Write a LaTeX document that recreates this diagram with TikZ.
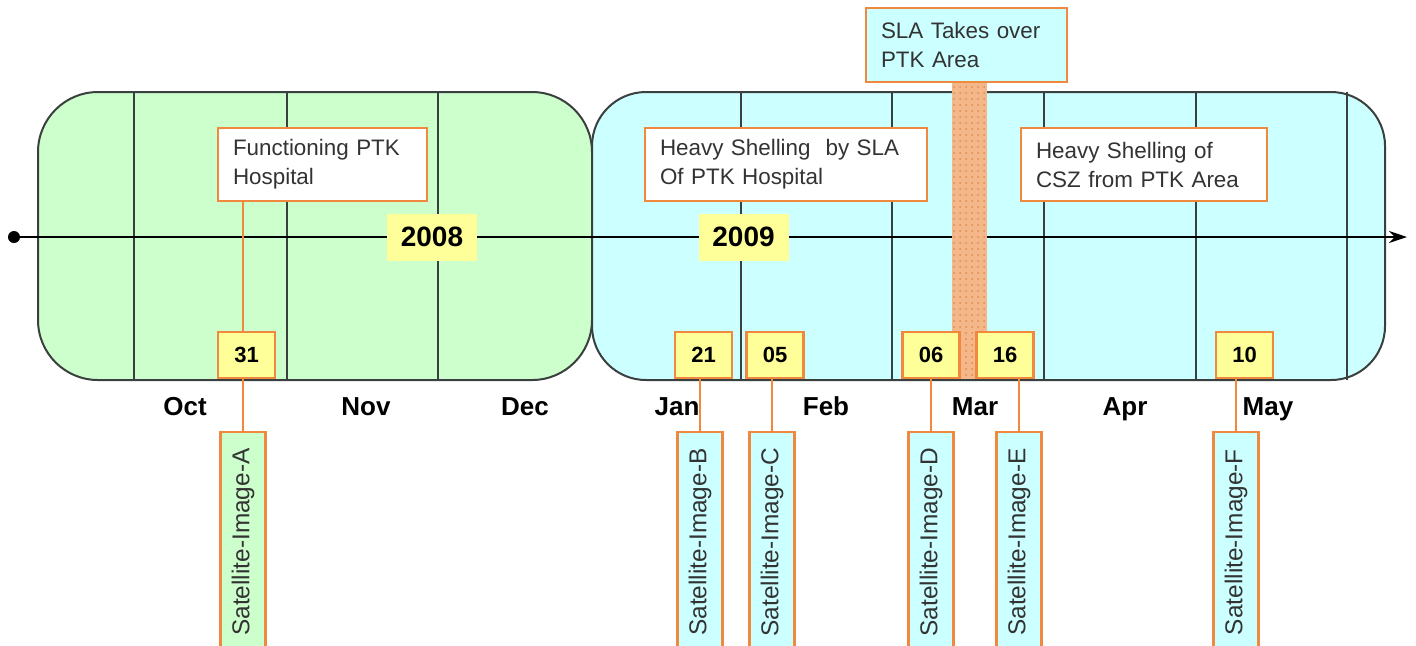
\documentclass[tikz,border=0pt]{standalone}
\usepackage{fontspec}
\setmainfont{Liberation Sans}
\usetikzlibrary{arrows.meta,patterns}
\definecolor{gfill}{HTML}{CCFFCC}
\definecolor{cfill}{HTML}{CCFFFF}
\definecolor{obord}{HTML}{F0883E}
\definecolor{yfill}{HTML}{FFFF99}
\definecolor{lgray}{HTML}{3A3F3F}
\definecolor{txt}{HTML}{333333}
\definecolor{barfill}{HTML}{F3B78A}
\definecolor{bardot}{HTML}{E08A50}
\tikzset{
  period/.style={draw=lgray, line width=1pt},
  grid/.style={draw=lgray, line width=0.9pt},
  event/.style={draw=obord, line width=1.2pt, fill=white, align=left, inner xsep=7.5pt,
     font=\fontsize{11.2}{14.5}\selectfont, text=txt, minimum height=36.5pt},
  yearbox/.style={fill=yfill, minimum width=45pt, minimum height=23.5pt, inner sep=0pt,
     font=\fontsize{14}{16}\selectfont\bfseries},
  datebox/.style={draw=obord, line width=1.1pt, fill=yfill, minimum width=28.5pt, minimum height=23pt,
     inner sep=0pt, font=\fontsize{11}{13}\selectfont\bfseries},
  satbox/.style={draw=obord, line width=1.1pt, rotate=90, minimum width=110pt, minimum height=22.5pt,
     inner sep=0pt, anchor=east, font=\fontsize{12.2}{14}\selectfont, text=txt},
  month/.style={font=\fontsize{13}{15}\selectfont\bfseries, anchor=base, inner sep=0pt},
  conn/.style={draw=obord, line width=1pt}
}
\begin{document}
\begin{tikzpicture}[x=0.5pt,y=-0.5pt]
\useasboundingbox (0,0) rectangle (1416,645);
\begin{scope}
\clip (0,0) rectangle (1416,645);
% period backgrounds
\draw[period, fill=gfill, rounded corners=30pt] (38,92) rectangle (592,380);
\draw[period, fill=cfill, rounded corners=27pt] (592,92) rectangle (1385,380);
% month grid
\foreach \x in {134,287,438,741,892,1044,1196,1347}
  \draw[grid] (\x,92) -- (\x,380);
% time axis
\coordinate (start) at (14,237);
\coordinate (end) at (1407,237);
\fill[black] (start) circle (3pt);
\draw[line width=0.9pt, -{Stealth[length=9pt,width=6pt]}] (start) -- (end);
% takeover bar
\fill[barfill] (952,82) rectangle (987,379);
\fill[pattern=dots, pattern color=bardot] (952,82) rectangle (987,379);
% years
\node[yearbox] (y2008) at (432,237) {2008};
\node[yearbox] (y2009) at (743.5,237) {2009};
% events
\node[event, text width=89.5pt] (func) at (322.5,164.5) {Functioning PTK\\Hospital};
\node[event, text width=126pt] (shellA) at (786,164.5) {Heavy Shelling\ \ by SLA\\Of PTK Hospital};
\node[event, text width=108pt] (shellB) at (1144,164.5) {Heavy Shelling of\\CSZ from PTK Area};
\node[event, fill=cfill, text width=85.5pt, minimum height=37pt] (take) at (966.5,45) {SLA Takes over\\PTK Area};
% dates
\node[datebox] (d31) at (246.5,355) {31};
\node[datebox] (d21) at (703.5,355) {21};
\node[datebox] (d05) at (775,355) {05};
\node[datebox] (d06) at (931,355) {06};
\node[datebox] (d16) at (1005,355) {16};
\node[datebox] (d10) at (1244.5,355) {10};
% months
\foreach \m/\x in {Oct/185,Nov/366,Dec/525,Jan/677,Feb/826,Mar/975,Apr/1125,May/1268}
  \node[month] (m\m) at (\x,415) {\m};
% satellite images
\node[satbox, fill=gfill] (satA) at (243,431) {Satellite-Image-A};
\node[satbox, fill=cfill] (satB) at (700,431) {Satellite-Image-B};
\node[satbox, fill=cfill] (satC) at (772,431) {Satellite-Image-C};
\node[satbox, fill=cfill] (satD) at (931,431) {Satellite-Image-D};
\node[satbox, fill=cfill] (satE) at (1019,431) {Satellite-Image-E};
\node[satbox, fill=cfill] (satF) at (1236,431) {Satellite-Image-F};
% connectors
\draw[conn] (func.south -| satA.east) -- (satA.east |- d31.north);
\draw[conn] (satA.east) -- (satA.east |- d31.south);
\draw[conn] (satB.east) -- (satB.east |- d21.south);
\draw[conn] (satC.east) -- (satC.east |- d05.south);
\draw[conn] (satD.east) -- (satD.east |- d06.south);
\draw[conn] (satE.east) -- (satE.east |- d16.south);
\draw[conn] (satF.east) -- (satF.east |- d10.south);
\end{scope}
\end{tikzpicture}
\end{document}
